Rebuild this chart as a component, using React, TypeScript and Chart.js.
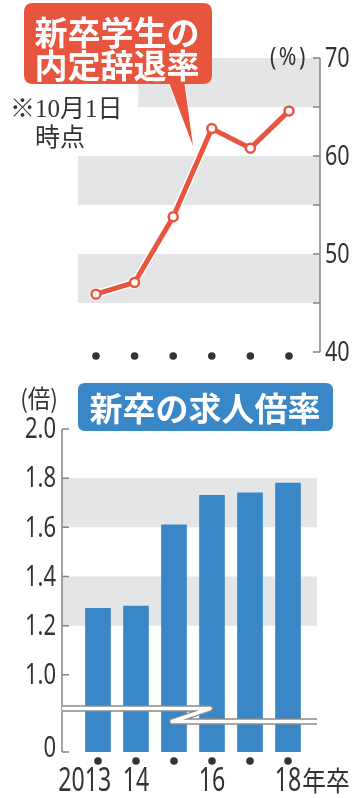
import React, { useEffect, useRef } from "react";
import { Chart, registerables } from "chart.js";

Chart.register(...registerables);

// ---- data ----
const years = ["2013", "2014", "2015", "2016", "2017", "2018"];
const xLabels = ["2013", "14", "", "16", "", "18年卒"];
const declineRate = [45.9, 47.1, 53.8, 62.8, 60.8, 64.6];
const jobOfferRatio = [1.27, 1.28, 1.61, 1.73, 1.74, 1.78];
const rateTicks = [40, 50, 60, 70];
const rateMinorTicks = [45, 55, 65];
const rateBands = [[45, 50], [55, 60], [65, 70]];
const ratioTicks = [1.0, 1.2, 1.4, 1.6, 1.8, 2.0];
const ratioBands = [[1.2, 1.4], [1.6, 1.8]];
const ratioBase = 0.686; // broken axis bottom, labelled "0"
const breakUpper = 0.863;
const breakLower = 0.81;

const RED = "#e8553f";
const BLUE = "#3a87c7";
const BAND = "#e4e5e7";
const AXIS = "#858585";
const TEXT = "#333333";
const SANS = "'Noto Sans', 'Open Sans', sans-serif";
const CJK = "'Noto Sans CJK JP', 'Noto Sans', sans-serif";
const SERIF = "'Liberation Serif', 'DejaVu Serif', 'Noto Sans CJK JP', serif";

function roundRect(ctx: CanvasRenderingContext2D, x: number, y: number, w: number, h: number, r: number) {
  ctx.beginPath();
  ctx.moveTo(x + r, y);
  ctx.lineTo(x + w - r, y);
  ctx.quadraticCurveTo(x + w, y, x + w, y + r);
  ctx.lineTo(x + w, y + h - r);
  ctx.quadraticCurveTo(x + w, y + h, x + w - r, y + h);
  ctx.lineTo(x + r, y + h);
  ctx.quadraticCurveTo(x, y + h, x, y + h - r);
  ctx.lineTo(x, y + r);
  ctx.quadraticCurveTo(x, y, x + r, y);
  ctx.closePath();
}

// draws horizontally condensed text; returns drawn width
function narrowText(
  ctx: CanvasRenderingContext2D,
  text: string,
  x: number,
  y: number,
  align: "left" | "right" | "center",
  sx: number
) {
  const w = ctx.measureText(text).width * sx;
  const left = align === "left" ? x : align === "right" ? x - w : x - w / 2;
  ctx.save();
  ctx.translate(left, y);
  ctx.scale(sx, 1);
  ctx.textAlign = "left";
  ctx.fillText(text, 0, 0);
  ctx.restore();
  return w;
}

const topPlugin = {
  id: "topDeco",
  beforeDatasetsDraw(chart: any) {
    const { ctx, chartArea: ca, scales } = chart;
    const y = scales.y;
    ctx.save();
    // bands
    ctx.fillStyle = BAND;
    rateBands.forEach(([a, b], i) => {
      const left = i === 2 ? 138 : ca.left;
      const t = y.getPixelForValue(b);
      const bt = y.getPixelForValue(a);
      ctx.fillRect(left, t, ca.right - left, bt - t);
    });
    // axis line and ticks
    ctx.strokeStyle = AXIS;
    ctx.lineWidth = 1.5;
    ctx.beginPath();
    ctx.moveTo(ca.right, y.getPixelForValue(70));
    ctx.lineTo(ca.right, y.getPixelForValue(40));
    [...rateTicks, ...rateMinorTicks].forEach((v) => {
      const py = y.getPixelForValue(v);
      ctx.moveTo(ca.right - 7, py);
      ctx.lineTo(ca.right, py);
    });
    ctx.stroke();
    // tick labels
    ctx.fillStyle = TEXT;
    ctx.textBaseline = "middle";
    ctx.font = `27px ${SANS}`;
    rateTicks.forEach((v) => {
      narrowText(ctx, String(v), ca.right + 5, y.getPixelForValue(v) + 1, "left", 0.8);
    });
    ctx.font = `25px ${SANS}`;
    (ctx as any).letterSpacing = "3px";
    narrowText(ctx, "(%)", 308, y.getPixelForValue(70) + 0, "right", 0.85);
    (ctx as any).letterSpacing = "0px";
    // note
    ctx.font = `25px ${SERIF}`;
    ctx.textAlign = "left";
    ctx.fillText("※10月1日", 10, 110);
    ctx.fillText("時点", 35, 139);
    // callout
    ctx.fillStyle = RED;
    ctx.strokeStyle = "#ffffff";
    ctx.lineWidth = 2;
    ctx.beginPath();
    ctx.moveTo(168, 80);
    ctx.lineTo(184, 80);
    ctx.lineTo(193, 146);
    ctx.closePath();
    ctx.stroke();
    ctx.fill();
    roundRect(ctx, 24, 3, 188, 81, 9);
    ctx.fill();
    ctx.fillStyle = "#ffffff";
    ctx.font = `bold 33px ${CJK}`;
    ctx.textAlign = "center";
    ctx.fillText("新卒学生の", 117, 32);
    ctx.fillText("内定辞退率", 117, 65);
    ctx.restore();
  },
  afterDraw(chart: any) {
    const { ctx, scales } = chart;
    ctx.save();
    ctx.fillStyle = TEXT;
    years.forEach((_, i) => {
      ctx.beginPath();
      ctx.arc(scales.x.getPixelForValue(i), 356, 3.8, 0, Math.PI * 2);
      ctx.fill();
    });
    ctx.restore();
  },
};

const bottomPlugin = {
  id: "bottomDeco",
  beforeDatasetsDraw(chart: any) {
    const { ctx, chartArea: ca, scales } = chart;
    const y = scales.y;
    ctx.save();
    ctx.fillStyle = BAND;
    ratioBands.forEach(([a, b]) => {
      const t = y.getPixelForValue(b);
      const bt = y.getPixelForValue(a);
      ctx.fillRect(ca.left, t, ca.right - ca.left, bt - t);
    });
    // title box
    ctx.fillStyle = BLUE;
    roundRect(ctx, 78, 8, 255, 48, 7);
    ctx.fill();
    ctx.fillStyle = "#ffffff";
    ctx.font = `bold 33px ${CJK}`;
    ctx.textAlign = "center";
    ctx.textBaseline = "middle";
    ctx.fillText("新卒の求人倍率", 205, 33);
    // unit
    ctx.fillStyle = TEXT;
    ctx.font = `25px ${CJK}`;
    narrowText(ctx, "(倍)", 39, 23, "center", 0.9);
    ctx.restore();
  },
  afterDatasetsDraw(chart: any) {
    const { ctx, chartArea: ca, scales } = chart;
    const x = scales.x;
    const y = scales.y;
    ctx.save();
    // axis
    ctx.strokeStyle = AXIS;
    ctx.lineWidth = 1.5;
    ctx.beginPath();
    ctx.moveTo(ca.left, ca.top);
    ctx.lineTo(ca.left, ca.bottom);
    [...ratioTicks, ratioBase].forEach((v) => {
      const py = y.getPixelForValue(v);
      ctx.moveTo(ca.left, py);
      ctx.lineTo(ca.left + 7, py);
    });
    ctx.stroke();
    // tick labels
    ctx.fillStyle = TEXT;
    ctx.font = `29px ${SANS}`;
    ctx.textBaseline = "middle";
    ratioTicks.forEach((v) => {
      narrowText(ctx, v.toFixed(1), ca.left - 6, y.getPixelForValue(v) + 1, "right", 0.76);
    });
    narrowText(ctx, "0", ca.left - 6, y.getPixelForValue(ratioBase) - 3, "right", 0.76);
    // break symbol
    const yu = y.getPixelForValue(breakUpper);
    const yl = y.getPixelForValue(breakLower);
    const path = () => {
      ctx.beginPath();
      ctx.moveTo(ca.left, yu);
      ctx.lineTo(x.getPixelForValue(2.95), yu);
      ctx.lineTo(x.getPixelForValue(1.95), yl);
      ctx.lineTo(ca.right, yl);
    };
    ctx.lineJoin = "round";
    ctx.strokeStyle = "#8a8a8a";
    ctx.lineWidth = 6.5;
    path();
    ctx.stroke();
    ctx.strokeStyle = "#ffffff";
    ctx.lineWidth = 3.5;
    path();
    ctx.stroke();
    ctx.restore();
  },
  afterDraw(chart: any) {
    const { ctx, scales } = chart;
    const x = scales.x;
    ctx.save();
    ctx.fillStyle = TEXT;
    ctx.textBaseline = "middle";
    xLabels.forEach((lab, i) => {
      const px = x.getPixelForValue(i);
      ctx.beginPath();
      ctx.arc(px, 386, 3.8, 0, Math.PI * 2);
      ctx.fill();
      const m = lab.match(/^(\d*)(\d\d)(.*)$/);
      if (!m) return;
      ctx.font = `33px ${SANS}`;
      const wMain = narrowText(ctx, m[2], px, 407, "center", 0.7);
      if (m[1]) {
        narrowText(ctx, m[1], px - wMain / 2, 407, "right", 0.7);
      }
      if (m[3]) {
        ctx.font = `27px ${CJK}`;
        narrowText(ctx, m[3], px + wMain / 2 + 1, 406, "left", 0.88);
      }
    });
    ctx.restore();
  },
};

export default function App() {
  const topRef = useRef<HTMLCanvasElement | null>(null);
  const bottomRef = useRef<HTMLCanvasElement | null>(null);

  useEffect(() => {
    document.body.style.margin = "0";
    const top = new Chart(topRef.current as HTMLCanvasElement, {
      type: "line",
      data: {
        datasets: [
          {
            data: declineRate.map((v, i) => ({ x: i, y: v })),
            borderColor: RED,
            borderWidth: 5,
            pointRadius: 4.5,
            pointBorderWidth: 2.5,
            pointBorderColor: RED,
            pointBackgroundColor: "#ffffff",
            clip: false,
          } as any,
          {
            data: declineRate.map((v, i) => ({ x: i, y: v })),
            borderColor: "#ffffff",
            borderWidth: 8,
            pointRadius: 6.5,
            pointBorderWidth: 0,
            pointBackgroundColor: "#ffffff",
            clip: false,
          } as any,
        ],
      },
      options: {
        responsive: false,
        maintainAspectRatio: false,
        animation: false,
        events: [],
        layout: { padding: { left: 78, right: 37, top: 58, bottom: 23 } },
        scales: {
          x: { type: "linear", min: -0.466, max: 5.803, display: false },
          y: { type: "linear", min: 40, max: 70, display: false },
        },
        plugins: { legend: { display: false }, tooltip: { enabled: false } },
      },
      plugins: [topPlugin],
    });

    const bottom = new Chart(bottomRef.current as HTMLCanvasElement, {
      type: "bar",
      data: {
        datasets: [
          {
            data: jobOfferRatio.map((v, i) => ({ x: i, y: v })),
            backgroundColor: BLUE,
            borderWidth: 0,
            barThickness: 25,
          } as any,
        ],
      },
      options: {
        responsive: false,
        maintainAspectRatio: false,
        animation: false,
        events: [],
        layout: { padding: { left: 62, right: 40, top: 54, bottom: 46 } },
        scales: {
          x: { type: "linear", min: -0.947, max: 5.763, display: false, offset: false },
          y: { type: "linear", min: ratioBase, max: 2.0, display: false },
        },
        plugins: { legend: { display: false }, tooltip: { enabled: false } },
      },
      plugins: [bottomPlugin],
    });

    return () => {
      top.destroy();
      bottom.destroy();
    };
  }, []);

  return (
    <div style={{ position: "absolute", left: 0, top: 0, width: 357, height: 798, background: "#ffffff" }}>
      <canvas ref={topRef} width={357} height={375} style={{ position: "absolute", left: 0, top: 0, width: 357, height: 375 }} />
      <canvas ref={bottomRef} width={357} height={423} style={{ position: "absolute", left: 0, top: 375, width: 357, height: 423 }} />
    </div>
  );
}
